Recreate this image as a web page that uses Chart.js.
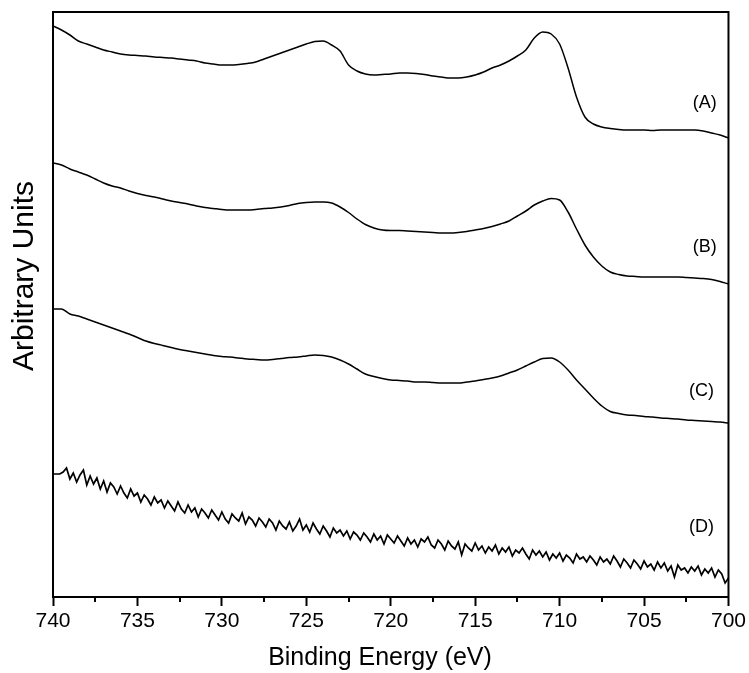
<!DOCTYPE html>
<html>
<head>
<meta charset="utf-8">
<title>Fe 2p XPS</title>
<script src="https://cdn.jsdelivr.net/npm/chart.js@4.4.1/dist/chart.umd.min.js"></script>
<style>
  html, body { margin: 0; padding: 0; background: #fff; }
  #wrap { width: 749px; height: 673px; }
</style>
</head>
<body>
<div id="wrap"><canvas id="xps" width="749" height="673"></canvas></div>
<script>
/* ── spectra (binding energy in eV, intensity in arbitrary units, curves already offset) ── */

// 0.5 eV grid for the smooth scans A–C
const energy = [
  740, 739.5, 739, 738.5, 738, 737.5, 737, 736.5, 736, 735.5,
  735, 734.5, 734, 733.5, 733, 732.5, 732, 731.5, 731, 730.5,
  730, 729.5, 729, 728.5, 728, 727.5, 727, 726.5, 726, 725.5,
  725, 724.5, 724, 723.5, 723, 722.5, 722, 721.5, 721, 720.5,
  720, 719.5, 719, 718.5, 718, 717.5, 717, 716.5, 716, 715.5,
  715, 714.5, 714, 713.5, 713, 712.5, 712, 711.5, 711, 710.5,
  710, 709.5, 709, 708.5, 708, 707.5, 707, 706.5, 706, 705.5,
  705, 704.5, 704, 703.5, 703, 702.5, 702, 701.5, 701, 700.5,
  700
];

const specA = [
  571, 567, 562, 556, 553, 550, 547, 545, 543, 542,
  541.5, 541, 540, 539.5, 539, 538, 537, 536, 534, 533,
  532, 532, 532.5, 533.5, 535, 538, 541, 544, 547, 550,
  553, 555.5, 556, 552, 546, 532, 526, 523, 522, 522.5,
  523, 524, 524, 523.5, 522.5, 521, 520, 519, 519, 520,
  522, 525, 529, 532, 536, 541, 547, 559, 565, 563,
  553, 529, 500, 480, 473, 470, 468.5, 467.5, 467, 467,
  467, 466.5, 467, 467, 467, 467, 467, 466, 464, 462,
  459
];

const specB = [
  434, 432, 428, 425, 422, 418, 414, 411, 409, 406,
  403.5, 401.5, 400, 398, 396, 394.5, 393, 391, 389.5, 388.5,
  387.5, 387, 387, 387, 387.5, 388.5, 389, 390, 391.5, 393.5,
  394.5, 395, 395, 394, 390, 384.5, 378, 372.5, 369, 367,
  366.5, 366.5, 366, 365.5, 365, 364.5, 364, 364, 364.5, 365.5,
  367, 368.5, 370.5, 373, 376, 381, 386, 392, 396, 398.5,
  397, 385, 368, 352, 340, 331, 325, 322.5, 321, 320.5,
  320, 320, 320, 320, 320, 319.5, 319, 318.5, 317.5, 315.5,
  313
];

const specC = [
  288, 288, 283, 281, 278, 275, 272, 269, 266, 263,
  259.5, 256, 253.5, 251.5, 249.5, 247.5, 246, 244.5, 243, 241.5,
  240.5, 240, 239, 238, 237.5, 237, 237.5, 238.5, 239.5, 240,
  241, 242, 241.5, 240, 237, 233, 228, 223, 220.5, 218.5,
  217, 216.5, 216, 215, 215, 214.5, 214, 214, 214, 215,
  216, 217.5, 219, 221, 224, 227, 231, 235, 238.5, 239,
  235, 227, 217, 208, 199, 191, 185.5, 183.5, 182, 181.5,
  180.5, 180, 179, 178.5, 178, 177, 176.5, 176, 175.5, 175,
  174
];

// 0.2 eV grid for the noisy scan D (one row per eV)
const energyFine = [
  740, 739.8, 739.6, 739.4, 739.2,
  739, 738.8, 738.6, 738.4, 738.2,
  738, 737.8, 737.6, 737.4, 737.2,
  737, 736.8, 736.6, 736.4, 736.2,
  736, 735.8, 735.6, 735.4, 735.2,
  735, 734.8, 734.6, 734.4, 734.2,
  734, 733.8, 733.6, 733.4, 733.2,
  733, 732.8, 732.6, 732.4, 732.2,
  732, 731.8, 731.6, 731.4, 731.2,
  731, 730.8, 730.6, 730.4, 730.2,
  730, 729.8, 729.6, 729.4, 729.2,
  729, 728.8, 728.6, 728.4, 728.2,
  728, 727.8, 727.6, 727.4, 727.2,
  727, 726.8, 726.6, 726.4, 726.2,
  726, 725.8, 725.6, 725.4, 725.2,
  725, 724.8, 724.6, 724.4, 724.2,
  724, 723.8, 723.6, 723.4, 723.2,
  723, 722.8, 722.6, 722.4, 722.2,
  722, 721.8, 721.6, 721.4, 721.2,
  721, 720.8, 720.6, 720.4, 720.2,
  720, 719.8, 719.6, 719.4, 719.2,
  719, 718.8, 718.6, 718.4, 718.2,
  718, 717.8, 717.6, 717.4, 717.2,
  717, 716.8, 716.6, 716.4, 716.2,
  716, 715.8, 715.6, 715.4, 715.2,
  715, 714.8, 714.6, 714.4, 714.2,
  714, 713.8, 713.6, 713.4, 713.2,
  713, 712.8, 712.6, 712.4, 712.2,
  712, 711.8, 711.6, 711.4, 711.2,
  711, 710.8, 710.6, 710.4, 710.2,
  710, 709.8, 709.6, 709.4, 709.2,
  709, 708.8, 708.6, 708.4, 708.2,
  708, 707.8, 707.6, 707.4, 707.2,
  707, 706.8, 706.6, 706.4, 706.2,
  706, 705.8, 705.6, 705.4, 705.2,
  705, 704.8, 704.6, 704.4, 704.2,
  704, 703.8, 703.6, 703.4, 703.2,
  703, 702.8, 702.6, 702.4, 702.2,
  702, 701.8, 701.6, 701.4, 701.2,
  701, 700.8, 700.6, 700.4, 700.2,
  700
];

const specD = [
  123, 123, 123, 125, 129,
  118, 124, 115, 122, 127,
  112, 121, 113, 119, 108,
  116, 105, 114, 110, 103,
  111, 104, 99, 108, 101,
  104, 95, 102, 98, 92,
  100, 94, 97, 89, 96,
  91, 86, 95, 88, 84,
  92, 85, 89, 80, 88,
  84, 79, 87, 82, 77,
  85, 78, 74, 83, 79,
  76, 84, 73, 80, 77,
  71, 79, 75, 70, 78,
  74, 67, 76, 71, 68,
  75, 66, 71, 78, 67,
  72, 65, 74, 68, 63,
  71, 66, 60, 69, 64,
  67, 61, 66, 58, 65,
  62, 57, 64, 60, 55,
  63, 57, 61, 53, 62,
  58, 54, 61, 56, 51,
  59, 53, 57, 50, 58,
  55, 60, 52, 49, 57,
  53, 47, 56, 51, 48,
  55, 42, 53, 49, 46,
  54, 47, 51, 44, 50,
  46, 52, 43, 49, 45,
  50, 41, 47, 44, 49,
  43, 38, 47, 42, 46,
  40, 45, 37, 43, 39,
  44, 36, 42, 39, 34,
  43, 38, 40, 35, 41,
  37, 32, 40, 35, 38,
  33, 41, 36, 30, 38,
  34, 29, 37, 33, 28,
  36, 30, 33, 27, 35,
  29, 34, 26, 31, 20,
  32, 27, 29, 24, 30,
  26, 31, 22, 28, 24,
  29, 20, 27, 23, 14,
  19
];

// curve labels sit at the right end of each trace
const traceNames  = ['(A)', '(B)', '(C)', '(D)'];
const labelEnergy = [701.4, 701.4, 701.6, 701.6];
const labelLevel  = [494, 350, 206, 70];

const minorTicks = [737.5, 732.5, 727.5, 722.5, 717.5, 712.5, 707.5, 702.5];

const xTitle = 'Binding Energy (eV)';
const yTitle = 'Arbitrary Units';

const FONT = '"Liberation Sans", Arial, Helvetica, sans-serif';

const pairs = (xs, ys) => ys.map((v, i) => ({ x: xs[i], y: v }));

const line = (label, xs, ys, w, smooth) => ({
  label,
  data: pairs(xs, ys),
  borderColor: '#000',
  borderWidth: w,
  pointRadius: 0,
  cubicInterpolationMode: smooth ? 'monotone' : 'default',
  tension: 0,
  fill: false
});

// frame, minor ticks, trace labels and axis titles
const decorations = {
  id: 'decorations',
  afterDraw(chart) {
    const { ctx, chartArea: a, scales: { x, y } } = chart;
    ctx.save();
    ctx.strokeStyle = '#000';
    ctx.lineWidth = 2;

    minorTicks.forEach(e => {
      const px = Math.round(x.getPixelForValue(e));
      ctx.beginPath();
      ctx.moveTo(px, a.bottom);
      ctx.lineTo(px, a.bottom + 5);
      ctx.stroke();
    });

    ctx.strokeRect(a.left, a.top, a.right - a.left, a.bottom - a.top);

    ctx.fillStyle = '#000';
    ctx.textAlign = 'center';
    ctx.textBaseline = 'middle';
    ctx.font = '18px ' + FONT;
    traceNames.forEach((t, i) => {
      ctx.fillText(t, x.getPixelForValue(labelEnergy[i]), y.getPixelForValue(labelLevel[i]));
    });

    ctx.font = '25px ' + FONT;
    ctx.fillText(xTitle, 380, 658);

    ctx.translate(25, 276);
    ctx.rotate(-Math.PI / 2);
    ctx.font = '30px ' + FONT;
    ctx.fillText(yTitle, 0, 0);
    ctx.restore();
  }
};

new Chart(document.getElementById('xps'), {
  type: 'line',
  data: {
    datasets: [
      line('A', energy, specA, 1.5, true),
      line('B', energy, specB, 1.5, true),
      line('C', energy, specC, 1.5, true),
      line('D', energyFine, specD, 1.7, false)
    ]
  },
  options: {
    responsive: false,
    animation: false,
    devicePixelRatio: 1,
    layout: { padding: { top: 12, right: 19, left: 0, bottom: 0 } },
    plugins: {
      legend: { display: false },
      tooltip: { enabled: false }
    },
    scales: {
      x: {
        type: 'linear',
        reverse: true,
        min: 700,
        max: 740,
        afterFit: s => { s.height = 76; },
        ticks: {
          stepSize: 5,
          color: '#000',
          padding: 3,
          maxRotation: 0,
          font: { family: FONT, size: 21 }
        },
        grid: {
          drawOnChartArea: false,
          drawTicks: true,
          tickLength: 9,
          tickWidth: 2,
          tickColor: '#000'
        },
        border: { display: true, color: '#000', width: 2 }
      },
      y: {
        min: 0,
        max: 585,
        afterFit: s => { s.width = 53; },
        ticks: { display: false },
        grid: { display: false },
        border: { display: true, color: '#000', width: 2 }
      }
    }
  },
  plugins: [decorations]
});
</script>
</body>
</html>
